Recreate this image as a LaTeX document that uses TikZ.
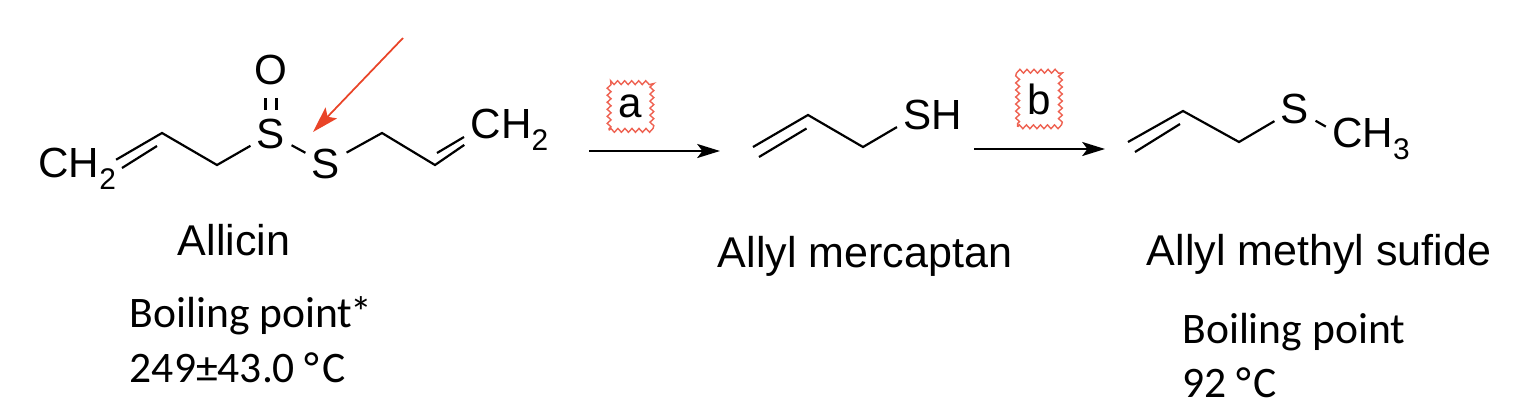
\documentclass[tikz,border=0pt]{standalone}
\usepackage{fontspec}
\setmainfont{Liberation Sans}
\newfontfamily\calibri{Carlito}
\usetikzlibrary{arrows.meta,decorations.pathmorphing}
\definecolor{arrowred}{RGB}{233,68,40}
\definecolor{boxred}{RGB}{238,98,82}
\newcommand{\chsub}[1]{\raisebox{-7pt}{\fontsize{17}{17}\selectfont #1}}
\tikzset{
    atom/.style={font=\fontsize{24}{24}\selectfont,inner sep=3.5pt},
    bond/.style={line width=1.25pt},
    molname/.style={font=\fontsize{24.5}{24.5}\selectfont,inner sep=0pt,anchor=base},
    bpoint/.style={font=\calibri\fontsize{24.8}{24.8}\selectfont,inner sep=0pt,anchor=base west},
    cond/.style={font=\fontsize{24}{24}\selectfont,draw=boxred,line width=0.8pt,inner xsep=5.5pt,inner ysep=7pt,
        decorate,decoration={zigzag,segment length=4pt,amplitude=1.1pt}},
    rxn/.style={line width=1.1pt,-{Stealth[length=13pt,width=8pt,inset=3pt]}},
    pointer/.style={arrowred,line width=1pt,-{Stealth[length=15pt,width=9pt,inset=3pt]}}
}
\begin{document}
\begin{tikzpicture}[x=0.02cm,y=-0.02cm]
\useasboundingbox (0,0) rectangle (1518,416);
\begin{scope}
    \node[atom,anchor=base west,inner sep=0pt] (ch2a) at (38,177) {CH\chsub{2}};
    \coordinate (c0) at (107,165);
    \coordinate (c1) at (162,133);
    \coordinate (c2) at (217,165);
    \node[atom] (s1) at (271,134) {S};
    \node[atom] (o1) at (271,70) {O};
    \node[atom] (s2) at (326,164) {S};
    \coordinate (c3) at (382,133);
    \coordinate (c4) at (435,165);
    \node[atom] (ch2b) at (486,130) {C\rlap{H\chsub{2}}};
    \draw[bond,shorten <=6pt] (c0) -- (c1) -- (c2) -- (s1);
    \draw[bond] ([shift={(15,3)}]c0) -- ([shift={(-5,13)}]c1);
    \draw[bond,shorten <=1.5pt,shorten >=3.5pt] ([shift={(-5.5,0)}]s1.north) -- ([shift={(-5.5,0)}]o1.south);
    \draw[bond,shorten <=1.5pt,shorten >=3.5pt] ([shift={(5.5,0)}]s1.north) -- ([shift={(5.5,0)}]o1.south);
    \draw[bond] (s1) -- (s2);
    \draw[bond] (s2) -- (c3) -- (c4) -- (ch2b);
    \draw[bond] ([shift={(2,-12)}]c4) -- ([shift={(29,-28)}]c4);
    \coordinate (ptail) at (403,38);
    \coordinate (phead) at (313,132);
    \draw[pointer] (ptail) -- (phead);
    \node[molname] (allicin) at (234,255) {Allicin};
    \node[bpoint] (bpa) at (129.5,327) {Boiling point\kern-1pt*};
    \node[bpoint] (bpav) at (129.5,382) {249±43.0 °\kern1.5pt C};
\end{scope}
\begin{scope}
    \coordinate (ra0) at (589,151);
    \coordinate (ra1) at (720,151);
    \draw[rxn] (ra0) -- (ra1);
    \node[cond] (ca) at (630.5,106.5) {a};
    \coordinate (rb0) at (974,149);
    \coordinate (rb1) at (1105,149);
    \draw[rxn] (rb0) -- (rb1);
    \node[cond] (cb) at (1039,99) {b};
\end{scope}
\begin{scope}
    \coordinate (m1) at (753,147);
    \coordinate (m2) at (808,115);
    \coordinate (m3) at (863,147);
    \node[atom] (s3) at (917.5,115) {S\rlap{H}};
    \draw[bond] (m1) -- (m2) -- (m3) -- (s3);
    \draw[bond] ([shift={(6,10)}]m1) -- ([shift={(-1.5,13.5)}]m2);
    \node[molname] (merc) at (865,267) {Allyl mercaptan};
\end{scope}
\begin{scope}
    \coordinate (a1) at (1128,142);
    \coordinate (a2) at (1183,111);
    \coordinate (a3) at (1239,142);
    \node[atom] (s4) at (1295,109) {S};
    \node[atom] (ch3) at (1347.5,139) {C\rlap{H\chsub{3}}};
    \draw[bond] (a1) -- (a2) -- (a3) -- (s4) -- (ch3);
    \draw[bond] ([shift={(7,10)}]a1) -- ([shift={(-3,13)}]a2);
    \node[molname] (sulf) at (1319,265) {Allyl methyl sufide};
    \node[bpoint] (bpb) at (1182,343) {Boiling point};
    \node[bpoint] (bpbv) at (1182,397) {92 °\kern1.5pt C};
\end{scope}
\end{tikzpicture}
\end{document}
